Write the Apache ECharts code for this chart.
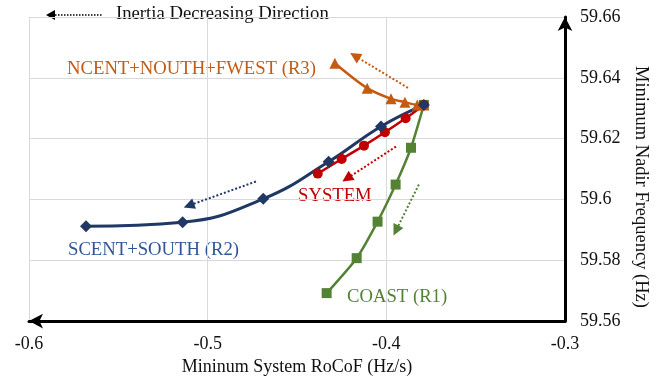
<!DOCTYPE html>
<html>
<head>
<meta charset="utf-8">
<script src="https://cdn.jsdelivr.net/npm/echarts@6/dist/echarts.min.js"></script>
<style>
  html, body { margin: 0; padding: 0; background: #fff; }
  #chart { width: 670px; height: 381px; }
</style>
</head>
<body>
<div id="chart"></div>
<script>
// RoCoF (Hz/s) and nadir frequency (Hz) per region, ordered by decreasing inertia
const coastRocof = [-0.4334, -0.4166, -0.4049, -0.3948, -0.3862, -0.3790];
const coastNadir = [59.5692, 59.5807, 59.5927, 59.6049, 59.6170, 59.6311];

const systemRocof = [-0.4384, -0.4250, -0.4125, -0.4008, -0.3892, -0.3790];
const systemNadir = [59.6085, 59.6133, 59.6177, 59.6221, 59.6267, 59.6311];

const ncentRocof = [-0.4288, -0.4107, -0.3974, -0.3896, -0.3827, -0.3790];
const ncentNadir = [59.6448, 59.6366, 59.6331, 59.6320, 59.6311, 59.6311];

const scentRocof = [-0.5681, -0.5140, -0.4689, -0.4323, -0.4030, -0.3790];
const scentNadir = [59.5912, 59.5925, 59.6002, 59.6124, 59.6240, 59.6311];

// direction arrows: [startRocof, startNadir, endRocof, endNadir]
const coastArrow  = [-0.3818, 59.6049, -0.3946, 59.5898];
const systemArrow = [-0.3946, 59.6174, -0.4220, 59.6069];
const ncentArrow  = [-0.3879, 59.6367, -0.4176, 59.6472];
const scentArrow  = [-0.4730, 59.6059, -0.5105, 59.5980];

const xTicks = { min: -0.6, max: -0.3, step: 0.1 };
const yTicks = { min: 59.56, max: 59.66, step: 0.02 };

const FONT = '"Liberation Serif", "DejaVu Serif", serif';
const LABEL_FONT = '18.7px ' + FONT;

function pairs(xs, ys) { return xs.map((x, i) => [x, ys[i]]); }

function arrow(a, color) {
  return {
    silent: true,
    symbol: ['none', 'triangle'],
    symbolSize: 11,
    label: { show: false },
    lineStyle: { color: color, type: 'dotted', width: 2 },
    data: [[{ coord: [a[0], a[1]] }, { coord: [a[2], a[3]] }]]
  };
}

const C_COAST = '#548235';
const C_SYS = '#c00000';
const C_NCENT = '#c55a11';
const C_SCENT = '#1f3864';

const chart = echarts.init(document.getElementById('chart'));
chart.setOption({
  animation: false,
  backgroundColor: '#fff',
  grid: { left: 29, right: 105, top: 17, bottom: 59 },
  xAxis: {
    type: 'value',
    min: xTicks.min, max: xTicks.max, interval: xTicks.step,
    name: 'Mininum System RoCoF (Hz/s)',
    nameLocation: 'middle',
    nameGap: 35,
    nameTextStyle: { fontFamily: FONT, fontSize: 18, color: '#111' },
    axisLine: {
      show: true, onZero: false,
      lineStyle: { color: '#000', width: 3 },
      symbol: ['arrow', 'none'], symbolSize: [11, 14]
    },
    axisTick: { show: false },
    axisLabel: { fontFamily: FONT, fontSize: 18, color: '#111', margin: 14 },
    splitLine: { show: true, lineStyle: { color: '#d9d9d9', width: 1 } }
  },
  yAxis: {
    type: 'value',
    position: 'right',
    min: yTicks.min, max: yTicks.max, interval: yTicks.step,
    axisLine: {
      show: true, onZero: false,
      lineStyle: { color: '#000', width: 3 },
      symbol: ['none', 'arrow'], symbolSize: [11, 14]
    },
    axisTick: { show: false },
    axisLabel: { fontFamily: FONT, fontSize: 18, color: '#111', margin: 15 },
    splitLine: { show: true, lineStyle: { color: '#d9d9d9', width: 1 } }
  },
  series: [
    {
      name: 'COAST (R1)', type: 'line', smooth: 0.2,
      data: pairs(coastRocof, coastNadir),
      symbol: 'rect', symbolSize: 10,
      itemStyle: { color: C_COAST }, lineStyle: { color: C_COAST, width: 2.5 },
      markLine: arrow(coastArrow, C_COAST)
    },
    {
      name: 'SYSTEM', type: 'line', smooth: 0.2,
      data: pairs(systemRocof, systemNadir),
      symbol: 'circle', symbolSize: 10,
      itemStyle: { color: C_SYS }, lineStyle: { color: C_SYS, width: 2.5 },
      markLine: arrow(systemArrow, C_SYS)
    },
    {
      name: 'NCENT+NOUTH+FWEST (R3)', type: 'line', smooth: 0.3,
      data: pairs(ncentRocof, ncentNadir),
      symbol: 'triangle', symbolSize: 11,
      itemStyle: { color: C_NCENT }, lineStyle: { color: C_NCENT, width: 2.5 },
      markLine: arrow(ncentArrow, C_NCENT)
    },
    {
      name: 'SCENT+SOUTH (R2)', type: 'line', smooth: 0.45,
      data: pairs(scentRocof, scentNadir),
      symbol: 'diamond', symbolSize: 12,
      itemStyle: { color: C_SCENT }, lineStyle: { color: C_SCENT, width: 3 },
      markLine: arrow(scentArrow, C_SCENT)
    }
  ],
  graphic: [
    // y-axis title, reading top to bottom
    {
      type: 'text', x: 641, y: 187, rotation: -Math.PI / 2,
      style: { text: 'Minimum Nadir Frequency (Hz)', font: '18.5px ' + FONT, fill: '#111', align: 'center', verticalAlign: 'middle' }
    },
    // region labels
    { type: 'text', left: 67, top: 60, style: { text: 'NCENT+NOUTH+FWEST (R3)', font: LABEL_FONT, fill: C_NCENT } },
    { type: 'text', left: 298, top: 187, style: { text: 'SYSTEM', font: LABEL_FONT, fill: C_SYS } },
    { type: 'text', left: 68, top: 241, style: { text: 'SCENT+SOUTH (R2)', font: LABEL_FONT, fill: '#2f5597' } },
    { type: 'text', left: 347, top: 288, style: { text: 'COAST (R1)', font: LABEL_FONT, fill: C_COAST } },
    // inertia direction key
    { type: 'line', shape: { x1: 55, y1: 15, x2: 103, y2: 15 }, style: { stroke: '#000', lineWidth: 1.5, lineDash: [1.5, 1.5] } },
    { type: 'polygon', shape: { points: [[46, 15], [55, 10], [55, 20]] }, style: { fill: '#000' } },
    { type: 'text', left: 116, top: 5, style: { text: 'Inertia Decreasing Direction', font: LABEL_FONT, fill: '#111' } }
  ]
});
</script>
</body>
</html>
